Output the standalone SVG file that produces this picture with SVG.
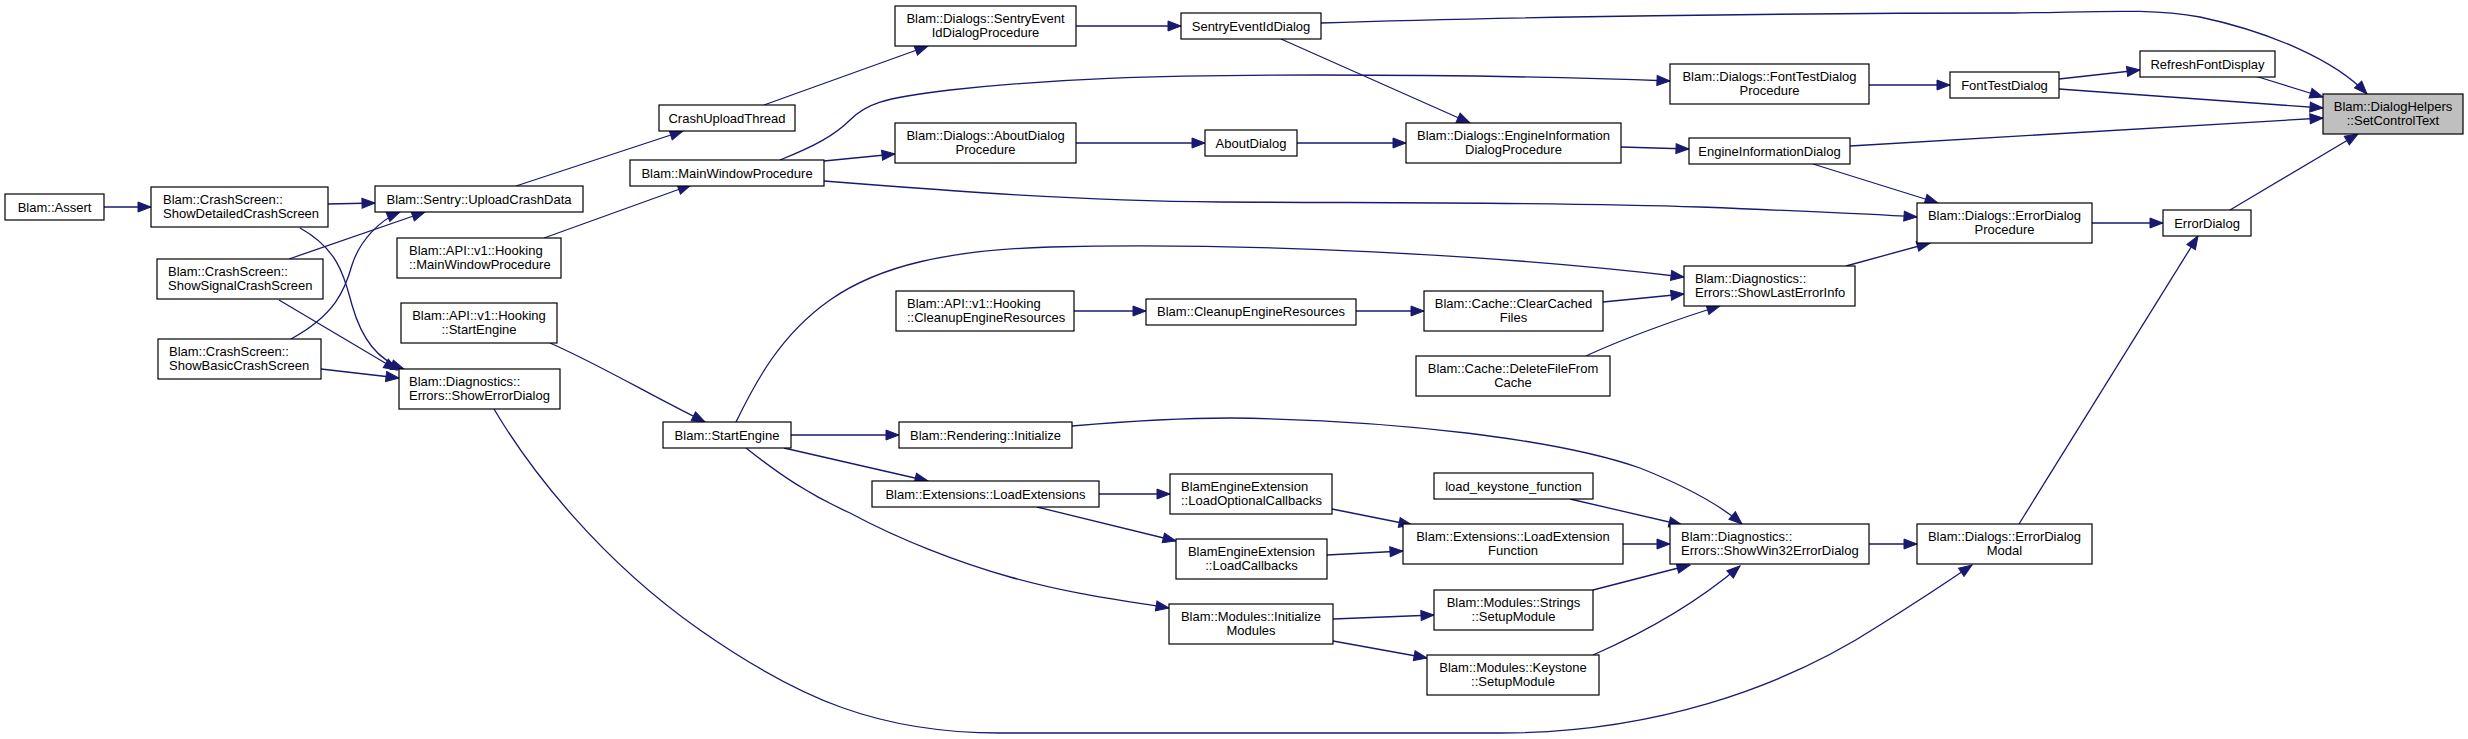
<svg xmlns="http://www.w3.org/2000/svg" width="2468" height="739" viewBox="0 0 2468 739">
<style>
.n rect{fill:#fff;stroke:#000;stroke-width:1.2}
.n.sel rect{fill:#bfbfbf}
text{font-family:"Liberation Sans",Arial,sans-serif;font-size:13px;fill:#000}
.c{text-anchor:middle}
.e path{fill:none;stroke:#191970;stroke-width:1.3;marker-end:url(#ah)}
</style>
<defs>
<marker id="ah" markerUnits="userSpaceOnUse" markerWidth="14" markerHeight="10" refX="13" refY="5" orient="auto" overflow="visible">
<path d="M0,0 L13,5 L0,10 z" fill="#191970" stroke="#191970" stroke-width="1"/>
</marker>
</defs>
<rect width="2468" height="739" fill="#fff"/>
<g id="edges" class="e">
<path d="M104,207 L151,207"/>
<path d="M328,204 L375,203"/>
<path d="M300,228 C340,250 345,280 352,305 C362,340 378,360 404,369"/>
<path d="M289,259 L425,212"/>
<path d="M279,300 L397,370"/>
<path d="M291,339 C335,315 345,290 352,265 C360,240 380,220 400,212"/>
<path d="M321,369 L399,378"/>
<path d="M516,186 L683,131"/>
<path d="M544,238 L691,185"/>
<path d="M764,105 L928,46"/>
<path d="M1076,26 L1181,26"/>
<path d="M824,161 L895,154"/>
<path d="M780,160 C815,146 835,135 850,120 C865,105 880,98 950,90 C1050,79 1150,75 1320,75 C1450,75 1560,77 1670,81"/>
<path d="M824,181 C950,191 1080,201 1220,202 C1400,203 1560,202 1700,207 C1800,211 1870,214 1917,217"/>
<path d="M1076,143 L1205,143"/>
<path d="M1297,143 L1406,143"/>
<path d="M1281,39 L1470,123"/>
<path d="M1321,23 C1500,17 1800,13 2013,13 C2100,12 2150,8 2200,17 C2270,32 2335,60 2367,94"/>
<path d="M1869,85 L1950,85"/>
<path d="M2059,79 L2140,70"/>
<path d="M2059,89 L2323,108"/>
<path d="M2255,76 L2323,97"/>
<path d="M1621,147 L1689,149"/>
<path d="M1850,146 L2323,118"/>
<path d="M1813,164 L1938,203"/>
<path d="M1846,266 L1930,243"/>
<path d="M2092,223 L2163,223"/>
<path d="M2230,210 L2358,134"/>
<path d="M2019,524 L2198,236"/>
<path d="M736,422 C755,383 780,335 830,300 C880,265 950,250 1050,247 C1250,242 1500,255 1684,277"/>
<path d="M1074,311 L1146,311"/>
<path d="M1356,311 L1424,311"/>
<path d="M1603,302 L1684,294"/>
<path d="M1586,356 C1620,340 1680,318 1720,306"/>
<path d="M550,343 C600,365 650,395 705,422"/>
<path d="M494,409 C530,470 600,560 700,630 C800,700 880,733 1000,733 L1500,733 C1650,733 1780,690 1880,625 C1920,600 1950,580 1972,565"/>
<path d="M791,435 L899,435"/>
<path d="M1072,426 C1130,421 1180,418 1230,418 C1400,420 1560,440 1640,468 C1690,488 1720,505 1742,524"/>
<path d="M784,448 L928,481"/>
<path d="M746,448 C780,475 810,495 850,513 C900,540 960,563 1010,577 C1070,594 1120,600 1169,608"/>
<path d="M1099,494 L1170,494"/>
<path d="M1037,507 L1176,541"/>
<path d="M1332,509 L1412,525"/>
<path d="M1327,555 L1403,551"/>
<path d="M1333,619 L1434,615"/>
<path d="M1333,641 L1427,658"/>
<path d="M1570,499 L1682,525"/>
<path d="M1623,544 L1670,544"/>
<path d="M1593,590 L1690,565"/>
<path d="M1593,655 C1650,630 1700,600 1740,566"/>
<path d="M1869,544 L1917,544"/>
</g>
<g id="n1" class="n"><rect x="5" y="194" width="99" height="26"/><text class="c" x="54.5" y="211.5">Blam::Assert</text></g>
<g id="n2" class="n"><rect x="151" y="187" width="177" height="40"/><text x="163" y="204">Blam::CrashScreen::</text><text x="163" y="218">ShowDetailedCrashScreen</text></g>
<g id="n3" class="n"><rect x="375" y="186" width="208" height="26"/><text class="c" x="479" y="203.5">Blam::Sentry::UploadCrashData</text></g>
<g id="n4" class="n"><rect x="397" y="238" width="164" height="40"/><text x="409" y="255">Blam::API::v1::Hooking</text><text x="409" y="269">::MainWindowProcedure</text></g>
<g id="n5" class="n"><rect x="157" y="259" width="166" height="40"/><text x="168" y="276">Blam::CrashScreen::</text><text x="168" y="290">ShowSignalCrashScreen</text></g>
<g id="n6" class="n"><rect x="401" y="303" width="156" height="40"/><text class="c" x="479" y="320">Blam::API::v1::Hooking</text><text class="c" x="479" y="334">::StartEngine</text></g>
<g id="n7" class="n"><rect x="158" y="339" width="163" height="40"/><text x="169" y="356">Blam::CrashScreen::</text><text x="169" y="370">ShowBasicCrashScreen</text></g>
<g id="n8" class="n"><rect x="399" y="369" width="161" height="40"/><text x="409" y="386">Blam::Diagnostics::</text><text x="409" y="400">Errors::ShowErrorDialog</text></g>
<g id="n9" class="n"><rect x="895" y="6" width="181" height="40"/><text class="c" x="985.5" y="23">Blam::Dialogs::SentryEvent</text><text class="c" x="985.5" y="37">IdDialogProcedure</text></g>
<g id="n10" class="n"><rect x="659" y="105" width="136" height="26"/><text class="c" x="727" y="122.5">CrashUploadThread</text></g>
<g id="n11" class="n"><rect x="630" y="160" width="194" height="26"/><text class="c" x="727" y="177.5">Blam::MainWindowProcedure</text></g>
<g id="n12" class="n"><rect x="895" y="123" width="181" height="40"/><text class="c" x="985.5" y="140">Blam::Dialogs::AboutDialog</text><text class="c" x="985.5" y="154">Procedure</text></g>
<g id="n13" class="n"><rect x="896" y="291" width="178" height="40"/><text x="907" y="308">Blam::API::v1::Hooking</text><text x="907" y="322">::CleanupEngineResources</text></g>
<g id="n14" class="n"><rect x="1181" y="13" width="140" height="26"/><text class="c" x="1251" y="30.5">SentryEventIdDialog</text></g>
<g id="n15" class="n"><rect x="1205" y="130" width="92" height="26"/><text class="c" x="1251" y="147.5">AboutDialog</text></g>
<g id="n16" class="n"><rect x="1146" y="299" width="210" height="26"/><text class="c" x="1251" y="316">Blam::CleanupEngineResources</text></g>
<g id="n17" class="n"><rect x="1670" y="64" width="199" height="40"/><text class="c" x="1769.5" y="81">Blam::Dialogs::FontTestDialog</text><text class="c" x="1769.5" y="95">Procedure</text></g>
<g id="n18" class="n"><rect x="1406" y="123" width="215" height="40"/><text class="c" x="1513.5" y="140">Blam::Dialogs::EngineInformation</text><text class="c" x="1513.5" y="154">DialogProcedure</text></g>
<g id="n19" class="n"><rect x="1689" y="138" width="161" height="26"/><text class="c" x="1769.5" y="155.5">EngineInformationDialog</text></g>
<g id="n20" class="n"><rect x="1684" y="266" width="171" height="40"/><text x="1695" y="283">Blam::Diagnostics::</text><text x="1695" y="297">Errors::ShowLastErrorInfo</text></g>
<g id="n21" class="n"><rect x="1424" y="291" width="179" height="40"/><text class="c" x="1513.5" y="308">Blam::Cache::ClearCached</text><text class="c" x="1513.5" y="322">Files</text></g>
<g id="n22" class="n"><rect x="1416" y="356" width="194" height="40"/><text class="c" x="1513" y="373">Blam::Cache::DeleteFileFrom</text><text class="c" x="1513" y="387">Cache</text></g>
<g id="n23" class="n"><rect x="2140" y="51" width="135" height="26"/><text class="c" x="2207.5" y="68.5">RefreshFontDisplay</text></g>
<g id="n24" class="n"><rect x="1950" y="72" width="109" height="26"/><text class="c" x="2004.5" y="89.5">FontTestDialog</text></g>
<g id="n25" class="n sel"><rect x="2323" y="94" width="140" height="40"/><text class="c" x="2393" y="111">Blam::DialogHelpers</text><text class="c" x="2393" y="125">::SetControlText</text></g>
<g id="n26" class="n"><rect x="1917" y="203" width="175" height="40"/><text class="c" x="2004.5" y="220">Blam::Dialogs::ErrorDialog</text><text class="c" x="2004.5" y="234">Procedure</text></g>
<g id="n27" class="n"><rect x="2163" y="210" width="88" height="26"/><text class="c" x="2207" y="227.5">ErrorDialog</text></g>
<g id="n28" class="n"><rect x="663" y="422" width="128" height="26"/><text class="c" x="727" y="439.5">Blam::StartEngine</text></g>
<g id="n29" class="n"><rect x="899" y="422" width="173" height="26"/><text class="c" x="985.5" y="439.5">Blam::Rendering::Initialize</text></g>
<g id="n30" class="n"><rect x="872" y="481" width="227" height="26"/><text class="c" x="985.5" y="498.5">Blam::Extensions::LoadExtensions</text></g>
<g id="n31" class="n"><rect x="1170" y="474" width="162" height="40"/><text x="1181" y="491">BlamEngineExtension</text><text x="1181" y="505">::LoadOptionalCallbacks</text></g>
<g id="n32" class="n"><rect x="1176" y="539" width="151" height="40"/><text class="c" x="1251.5" y="556">BlamEngineExtension</text><text class="c" x="1251.5" y="570">::LoadCallbacks</text></g>
<g id="n33" class="n"><rect x="1169" y="604" width="164" height="40"/><text class="c" x="1251" y="621">Blam::Modules::Initialize</text><text class="c" x="1251" y="635">Modules</text></g>
<g id="n34" class="n"><rect x="1434" y="473" width="159" height="26"/><text class="c" x="1513.5" y="490.5">load_keystone_function</text></g>
<g id="n35" class="n"><rect x="1403" y="524" width="220" height="40"/><text class="c" x="1513" y="541">Blam::Extensions::LoadExtension</text><text class="c" x="1513" y="555">Function</text></g>
<g id="n36" class="n"><rect x="1434" y="590" width="159" height="40"/><text class="c" x="1513.5" y="607">Blam::Modules::Strings</text><text class="c" x="1513.5" y="621">::SetupModule</text></g>
<g id="n37" class="n"><rect x="1427" y="655" width="172" height="40"/><text class="c" x="1513" y="672">Blam::Modules::Keystone</text><text class="c" x="1513" y="686">::SetupModule</text></g>
<g id="n38" class="n"><rect x="1670" y="524" width="199" height="40"/><text x="1681" y="541">Blam::Diagnostics::</text><text x="1681" y="555">Errors::ShowWin32ErrorDialog</text></g>
<g id="n39" class="n"><rect x="1917" y="524" width="175" height="40"/><text class="c" x="2004.5" y="541">Blam::Dialogs::ErrorDialog</text><text class="c" x="2004.5" y="555">Modal</text></g>
</svg>
